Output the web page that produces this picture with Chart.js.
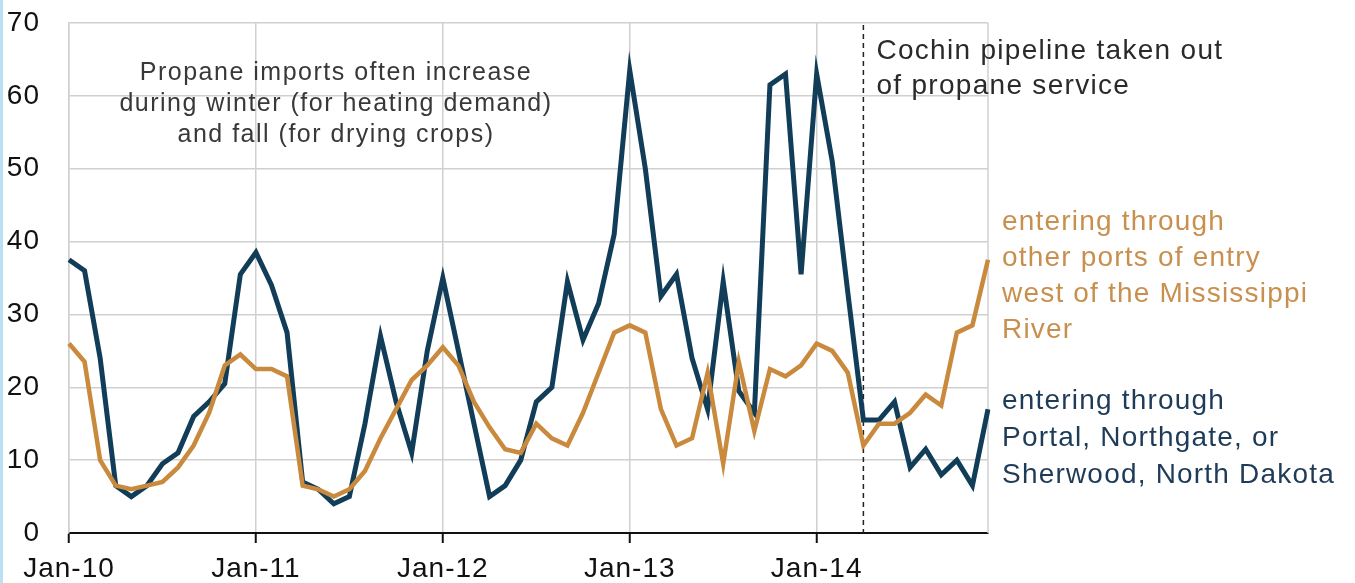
<!DOCTYPE html>
<html>
<head>
<meta charset="utf-8">
<script src="https://cdn.jsdelivr.net/npm/chart.js@4.4.1/dist/chart.umd.min.js"></script>
<style>
    html, body { margin: 0; padding: 0; background: #fff; }
    #wrap { position: relative; width: 1355px; height: 583px; }
    #edge { position: absolute; left: 0; top: 0; width: 3px; height: 583px; background: #b9e1f4; }
</style>
</head>
<body>
<div id="wrap">
    <canvas id="chart" width="1355" height="583"></canvas>
    <div id="edge"></div>
</div>
<script>
// Monthly propane imports, Jan-10 .. Dec-14
const months = [
    'Jan-10', 'Feb-10', 'Mar-10', 'Apr-10', 'May-10', 'Jun-10', 'Jul-10', 'Aug-10', 'Sep-10', 'Oct-10', 'Nov-10', 'Dec-10',
    'Jan-11', 'Feb-11', 'Mar-11', 'Apr-11', 'May-11', 'Jun-11', 'Jul-11', 'Aug-11', 'Sep-11', 'Oct-11', 'Nov-11', 'Dec-11',
    'Jan-12', 'Feb-12', 'Mar-12', 'Apr-12', 'May-12', 'Jun-12', 'Jul-12', 'Aug-12', 'Sep-12', 'Oct-12', 'Nov-12', 'Dec-12',
    'Jan-13', 'Feb-13', 'Mar-13', 'Apr-13', 'May-13', 'Jun-13', 'Jul-13', 'Aug-13', 'Sep-13', 'Oct-13', 'Nov-13', 'Dec-13',
    'Jan-14', 'Feb-14', 'Mar-14', 'Apr-14', 'May-14', 'Jun-14', 'Jul-14', 'Aug-14', 'Sep-14', 'Oct-14', 'Nov-14', 'Dec-14'
];

// Portal, Northgate, or Sherwood (North Dakota)
const northDakota = [
    37.5, 36, 24, 6.5, 5, 6.5, 9.5, 11, 16, 18, 20.5, 35.5,
    38.5, 34, 27.5, 7, 6, 4, 5, 15, 27, 18, 11, 25,
    35, 25, 15, 5, 6.5, 10, 18, 20, 34.5, 26.5, 31.5, 41,
    63.5, 50, 32.5, 35.5, 24, 17, 34.5, 19.5, 16.5, 61.5, 63, 35.5,
    63, 51, 33, 15.5, 15.5, 18, 9, 11.5, 8, 10, 6.5, 17
];

// other ports of entry west of the Mississippi River
const otherPorts = [
    26, 23.5, 10, 6.5, 6, 6.5, 7, 9, 12, 16.5, 23, 24.5,
    22.5, 22.5, 21.5, 6.5, 6, 5, 6, 8.5, 13, 17, 21, 23,
    25.5, 23, 18, 14.5, 11.5, 11, 15, 13, 12, 16.5, 22, 27.5,
    28.5, 27.5, 17, 12, 13, 22, 9.5, 23.5, 14, 22.5, 21.5, 23,
    26, 25, 22, 12, 15, 15, 16.5, 19, 17.5, 27.5, 28.5, 37.5
];

const yTicks = [0, 10, 20, 30, 40, 50, 60, 70];
const pipelineMonth = 'Apr-14';

const BLUE = '#113d59';
const ORANGE = '#c98a3e';
const GRID = '#d0d0d0';
const FONT = '"Liberation Sans", Arial, sans-serif';

// write lines of text, each line a bit letter-spaced like the original
function textLines(ctx, lines, x, y0, step, spacing) {
    ctx.letterSpacing = spacing + 'px';
    lines.forEach((t, i) => ctx.fillText(t, x, y0 + i * step));
}

// Frame, dashed marker and text annotations
const annotations = {
    id: 'annotations',
    beforeDraw(chart) {
        chart.ctx.letterSpacing = '1px';
    },
    beforeDatasetsDraw(chart) {
        const { ctx, chartArea: a, scales } = chart;
        ctx.save();
        ctx.strokeStyle = GRID;
        ctx.lineWidth = 1.5;
        ctx.beginPath();
        ctx.moveTo(a.right, a.top);
        ctx.lineTo(a.right, a.bottom);
        ctx.stroke();

        const x = scales.x.getPixelForValue(months.indexOf(pipelineMonth));
        ctx.strokeStyle = '#222';
        ctx.lineWidth = 1.5;
        ctx.setLineDash([5, 4]);
        ctx.beginPath();
        ctx.moveTo(x, a.top + 2);
        ctx.lineTo(x, a.bottom);
        ctx.stroke();
        ctx.restore();
    },
    afterDraw(chart) {
        const { ctx, chartArea: a, scales } = chart;
        ctx.save();
        ctx.textBaseline = 'middle';

        ctx.fillStyle = '#383838';
        ctx.font = '25px ' + FONT;
        ctx.textAlign = 'center';
        textLines(ctx, ['Propane imports often increase',
            'during winter (for heating demand)',
            'and fall (for drying crops)'], 336, 73, 31, 1.5);

        const x = scales.x.getPixelForValue(months.indexOf(pipelineMonth));
        ctx.textAlign = 'left';
        ctx.font = '28px ' + FONT;
        ctx.fillStyle = '#2a2a2a';
        textLines(ctx, ['Cochin pipeline taken out', 'of propane service'], x + 13, 51, 35, 1.3);

        const lx = a.right + 14;
        ctx.fillStyle = '#c8904e';
        textLines(ctx, ['entering through', 'other ports of entry', 'west of the Mississippi', 'River'],
            lx, 222, 36, 1.2);

        ctx.fillStyle = '#1e3b58';
        textLines(ctx, ['entering through', 'Portal, Northgate, or', 'Sherwood, North Dakota'],
            lx, 401, 37, 1.2);
        ctx.restore();
        ctx.letterSpacing = '0px';
    }
};

const isJan = (i) => i % 12 === 0;

new Chart(document.getElementById('chart'), {
    type: 'line',
    data: {
        labels: months,
        datasets: [
            {
                label: 'other ports of entry west of the Mississippi River',
                data: otherPorts,
                borderColor: ORANGE,
                borderWidth: 4.5,
                pointRadius: 0,
                tension: 0
            },
            {
                label: 'Portal, Northgate, or Sherwood, North Dakota',
                data: northDakota,
                borderColor: BLUE,
                borderWidth: 5,
                pointRadius: 0,
                tension: 0
            }
        ]
    },
    options: {
        responsive: false,
        animation: false,
        events: [],
        layout: { padding: { top: 23, right: 367, left: 0, bottom: 0 } },
        plugins: {
            legend: { display: false },
            tooltip: { enabled: false }
        },
        scales: {
            x: {
                type: 'category',
                offset: false,
                afterFit: (axis) => {
                    axis.height = 50;
                    axis.paddingLeft = 0;
                    axis.paddingRight = 0;
                },
                border: { color: '#111', width: 2 },
                grid: {
                    color: (c) => isJan(c.index) ? GRID : 'rgba(0,0,0,0)',
                    tickColor: (c) => isJan(c.index) ? '#111' : 'rgba(0,0,0,0)',
                    lineWidth: 1.5,
                    tickWidth: 2,
                    tickLength: 10
                },
                ticks: {
                    autoSkip: false,
                    maxRotation: 0,
                    padding: 9,
                    color: '#111',
                    font: { family: FONT, size: 28 },
                    callback: function (value, index) {
                        return isJan(index) ? months[index] : '';
                    }
                }
            },
            y: {
                min: 0,
                max: 70,
                afterFit: (axis) => {
                    axis.width = 69;
                    axis.paddingTop = 0;
                    axis.paddingBottom = 0;
                },
                afterBuildTicks: (axis) => { axis.ticks = yTicks.map(v => ({ value: v })); },
                border: { color: GRID, width: 1.5 },
                grid: { color: GRID, lineWidth: 1.5, drawTicks: false },
                ticks: {
                    padding: 29,
                    color: '#111',
                    font: { family: FONT, size: 28 }
                }
            }
        }
    },
    plugins: [annotations]
});
</script>
</body>
</html>
